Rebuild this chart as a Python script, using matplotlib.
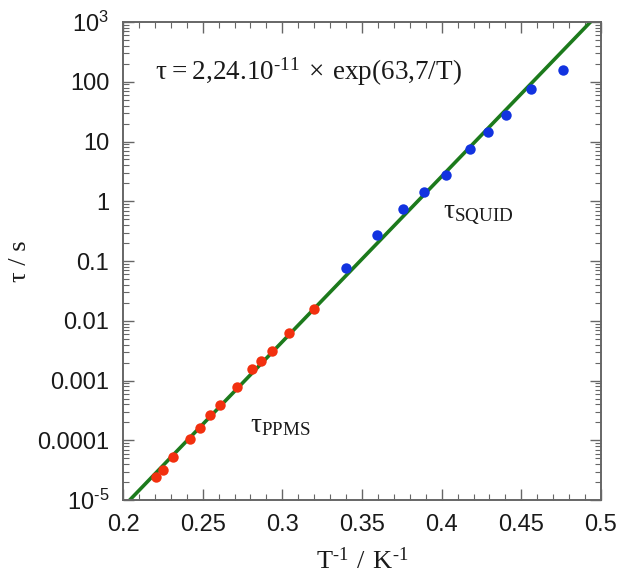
import numpy as np
import matplotlib
matplotlib.use("Agg")
import matplotlib.pyplot as plt
from matplotlib.ticker import FixedLocator, FixedFormatter, LogLocator, MultipleLocator, NullFormatter

# === データ ===
# PPMS (赤)
ppms_x = [0.2205, 0.2249, 0.2316, 0.2423, 0.2483, 0.2548, 0.2609, 0.2713,
          0.2812, 0.2868, 0.2935, 0.3044, 0.3199]
ppms_tau = [2.45e-5, 3.2e-5, 5.3e-5, 1.04e-4, 1.6e-4, 2.6e-4, 3.9e-4, 7.9e-4,
            1.58e-3, 2.15e-3, 3.15e-3, 6.3e-3, 0.0159]
# SQUID (青)
squid_x = [0.3398, 0.3594, 0.3755, 0.3889, 0.4025, 0.4178, 0.4289, 0.4402,
           0.4563, 0.4760]
squid_tau = [0.0754, 0.276, 0.751, 1.43, 2.79, 7.49, 14.3, 27.8, 76.5, 159]

# フィット: tau = tau0 * exp(Ea / T)
tau0 = 2.24e-11
Ea = 63.7

HY = "\u2010"  # ハイフン（mathtextのマイナス記号を避ける）
ytick_vals = [1e-5, 1e-4, 1e-3, 1e-2, 1e-1, 1, 10, 100, 1e3]
ytick_labels = [r"$\mathregular{10^{" + HY + "5}}$", "0.0001", "0.001", "0.01", "0.1",
                "1", "10", "100", r"$\mathregular{10^{3}}$"]
xtick_vals = [0.2, 0.25, 0.3, 0.35, 0.4, 0.45, 0.5]
xtick_labels = ["0.2", "0.25", "0.3", "0.35", "0.4", "0.45", "0.5"]

plt.rcParams["font.family"] = ["Liberation Sans", "DejaVu Sans"]
serif = ["Liberation Serif", "DejaVu Serif"]
txt = "#1a1a1a"

fig = plt.figure(figsize=(6.17, 5.76), dpi=100)
ax = fig.add_axes([0.1994, 0.1319, 0.7746, 0.8299])

xfit = np.linspace(0.2, 0.5, 300)
ax.plot(xfit, tau0 * np.exp(Ea * xfit), color="#1c7a1c", lw=2.6, zorder=2)
ax.plot(ppms_x, ppms_tau, "o", color="#f2300f", ms=7.5, mec="none", zorder=3)
ax.plot(squid_x, squid_tau, "o", color="#1233e0", ms=7.5, mec="none", zorder=3)

ax.set_yscale("log")
ax.set_xlim(0.2, 0.5)
ax.set_ylim(1e-5, 1e3)

ax.xaxis.set_major_locator(FixedLocator(xtick_vals))
ax.xaxis.set_major_formatter(FixedFormatter(xtick_labels))
ax.xaxis.set_minor_locator(MultipleLocator(0.01))
ax.yaxis.set_major_locator(FixedLocator(ytick_vals))
ax.yaxis.set_major_formatter(FixedFormatter(ytick_labels))
ax.yaxis.set_minor_locator(LogLocator(base=10, subs=np.arange(2, 10), numticks=20))
ax.yaxis.set_minor_formatter(NullFormatter())

gray = "#666666"
for s in ax.spines.values():
    s.set_color(gray)
    s.set_linewidth(1.4)
ax.tick_params(which="both", direction="in", top=True, right=True, color=gray,
               labelsize=17, labelcolor=txt)
ax.tick_params(which="major", length=8, width=1.0, pad=10)
ax.tick_params(which="minor", length=4, width=0.8)

ax.set_xlabel(r"$\mathregular{T^{" + HY + "1}\ /\ K^{" + HY + "1}}$", family=serif,
              fontsize=19, color=txt, labelpad=8)
ax.set_ylabel("τ / s", family=serif, fontsize=19, color=txt, labelpad=4)

ax.text(0.067, 0.895,
        r"$\mathregular{τ = 2{,}24.10^{" + HY + r"11}\ ×\ exp(63{,}7/T)}$",
        transform=ax.transAxes, family=serif, fontsize=19.5, color=txt,
        va="center", ha="left")
ax.text(0.67, 0.595, r"$\mathregular{τ_{SQUID}}$", transform=ax.transAxes,
        family=serif, fontsize=19.5, color=txt, va="center")
ax.text(0.265, 0.155, r"$\mathregular{τ_{PPMS}}$", transform=ax.transAxes,
        family=serif, fontsize=19.5, color=txt, va="center")

fig.savefig("out.png", dpi=100)
